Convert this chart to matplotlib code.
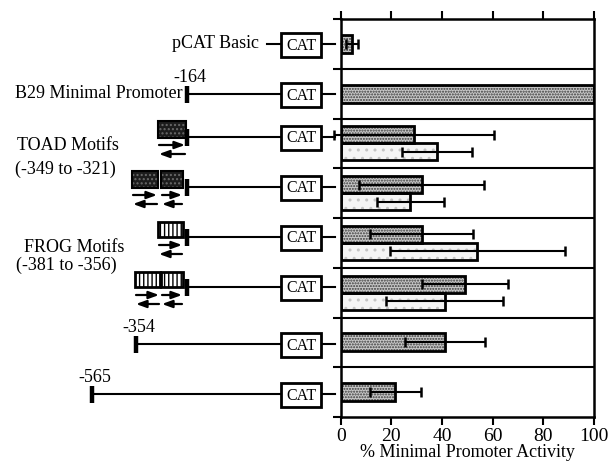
"""Promoter deletion / motif constructs vs. CAT reporter activity."""

import numpy as np
import matplotlib.pyplot as plt
from matplotlib.patches import Rectangle

plt.rcParams["font.family"] = ["Liberation Serif", "DejaVu Serif"]
plt.rcParams["hatch.linewidth"] = 1.0

# % minimal promoter activity, one row per construct (top to bottom)
constructs = ["pCAT Basic", "B29 Minimal Promoter", "TOAD x1", "TOAD x2",
              "FROG x1", "FROG x2", "-354", "-565"]
dark_vals = [4.5, 100, 29, 32, 32, 49, 41, 21.6]
dark_err = [2.4, np.nan, 31.7, 24.7, 20.4, 17, 15.8, 10]
light_vals = [np.nan, np.nan, 38, 27.5, 54, 41, np.nan, np.nan]
light_err = [np.nan, np.nan, 13.9, 13.3, 34.7, 23.2, np.nan, np.nan]
x_ticks = [0, 20, 40, 60, 80, 100]

# schematic of each construct (pixel layout of the left panel)
start_x = [None, 187, 187, 187, 187, 187, 136, 92]
start_labels = [None, "-164", None, None, None, None, "-354", "-565"]
motifs = [[], [],
          [("toad", 158, 28)],
          [("toad", 132, 26), ("toad", 161, 22)],
          [("frog", 158, 25)],
          [("frog", 135, 25), ("frog", 161, 22)],
          [], []]

W, H = 611, 463
TOP, ROW = 19, 50


def draw_bars(ax):
    n = len(constructs)
    rows = np.arange(n) + 0.5
    paired = ~np.isnan(light_vals)
    dark_y = np.where(paired, rows - 0.17, rows)
    dark_h = np.where(paired, 0.34, 0.36)
    light_y = rows + 0.17

    ax.barh(dark_y, dark_vals, dark_h, color="#c8c8c8", edgecolor="#3a3a3a",
            hatch="......", linewidth=0, zorder=2)
    ax.barh(dark_y, dark_vals, dark_h, fill=False, edgecolor="black",
            linewidth=2, zorder=3)
    lv = np.nan_to_num(light_vals)
    ax.barh(light_y, lv, 0.34, color="#f4f4f4", edgecolor="#c4c4c4",
            hatch="..", linewidth=0, zorder=2)
    ax.barh(light_y[paired], lv[paired], 0.34, fill=False, edgecolor="black",
            linewidth=2, zorder=3)

    for vals, errs, ys in [(dark_vals, dark_err, dark_y), (light_vals, light_err, light_y)]:
        eb = ax.errorbar(vals, ys, xerr=errs, fmt="none", ecolor="black",
                         elinewidth=1.5, capsize=3.6, capthick=1.8, zorder=4)
        for art in eb.lines[1] + tuple(eb.lines[2]):
            art.set_clip_on(False)

    for b in range(1, n):
        ax.axhline(b, color="black", linewidth=1.5, zorder=1)

    ax.set_xlim(0, 100)
    ax.set_ylim(n, 0)
    ax.set_xticks(x_ticks)
    ax.set_yticks(np.arange(n + 1))
    ax.set_yticklabels([])
    ax.tick_params(axis="x", top=True, direction="out", length=6, width=1.5,
                   labelsize=14, pad=2)
    ax.tick_params(axis="y", direction="out", length=6, width=1.5)
    for sp in ax.spines.values():
        sp.set_linewidth(1.8)
    ax.set_xlabel("% Minimal Promoter Activity", fontsize=13, labelpad=-1)


def draw_schematic(dax):
    dax.set_xlim(0, W)
    dax.set_ylim(H, 0)
    dax.axis("off")
    head = "-|>,head_length=0.6,head_width=0.22"
    for i, name in enumerate(constructs):
        yc = TOP + ROW * (i + 0.5)
        yl = yc - 7 if motifs[i] else yc
        # CAT reporter box + stub to the axis
        dax.add_patch(Rectangle((281, yl - 11), 40, 24, facecolor="white",
                                edgecolor="black", linewidth=2, zorder=3))
        dax.text(301, yl + 1.5, "CAT", ha="center", va="center", fontsize=11.5, zorder=4)
        dax.plot([321, 335], [yl, yl], color="black", lw=1.5)
        if start_x[i] is None:
            dax.plot([267, 281], [yl, yl], color="black", lw=1.5)
            continue
        x0 = start_x[i]
        dax.plot([x0, 281], [yl, yl], color="black", lw=1.5)
        dax.plot([x0, x0], [yl - 8, yl + 9], color="black", lw=3.2, solid_capstyle="butt")
        if start_labels[i]:
            dax.text(x0 + 3, yl - 16, start_labels[i], ha="center", va="center", fontsize=13)
        for kind, mx, mw in motifs[i]:
            if kind == "toad":
                dax.add_patch(Rectangle((mx, yl - 16), mw, 17, facecolor="#1c1c1c",
                                        edgecolor="#6a6a6a", hatch="....", linewidth=0))
                dax.add_patch(Rectangle((mx, yl - 16), mw, 17, fill=False,
                                        edgecolor="black", linewidth=1.5))
            else:
                dax.add_patch(Rectangle((mx, yl - 15), mw, 15, facecolor="white",
                                        edgecolor="black", hatch="||||", linewidth=2))
            ax0, ax1 = mx + 1, mx + mw - 1
            dax.annotate("", xy=(ax1, yl + 8), xytext=(ax0, yl + 8),
                         arrowprops=dict(arrowstyle=head, color="black", lw=1.6,
                                         shrinkA=0, shrinkB=0))
            dax.annotate("", xy=(ax0, yl + 17), xytext=(ax1, yl + 17),
                         arrowprops=dict(arrowstyle=head, color="black", lw=1.6,
                                         shrinkA=0, shrinkB=0))

    dax.text(259, TOP + ROW * 0.5 - 1, "pCAT Basic", ha="right", va="center", fontsize=13)
    dax.text(183, TOP + ROW * 1.5, "B29 Minimal Promoter", ha="right", va="center", fontsize=13)
    dax.text(68, 146, "TOAD Motifs", ha="center", va="center", fontsize=13)
    dax.text(65, 169, "(-349 to -321)", ha="center", va="center", fontsize=13)
    dax.text(74, 247, "FROG Motifs", ha="center", va="center", fontsize=13)
    dax.text(66, 265, "(-381 to -356)", ha="center", va="center", fontsize=13)


def main():
    fig = plt.figure(figsize=(W / 100, H / 100), dpi=100)
    dax = fig.add_axes([0, 0, 1, 1], zorder=0)
    dax.patch.set_visible(False)
    draw_schematic(dax)

    ax = fig.add_axes([340.7 / W, 1 - 417 / H, 253.3 / W, 398 / H], zorder=1)
    ax.patch.set_visible(False)
    draw_bars(ax)

    fig.savefig("out.png", dpi=100)


if __name__ == "__main__":
    main()
